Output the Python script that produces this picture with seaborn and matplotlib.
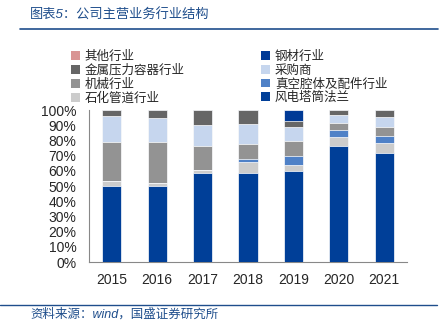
import matplotlib
matplotlib.use("Agg")
import matplotlib.pyplot as plt
import seaborn as sns
import numpy as np
import pandas as pd
from matplotlib.patches import Patch
from matplotlib.lines import Line2D

sns.set_style("white")
plt.rcParams['font.family'] = ['Liberation Sans', 'Noto Sans CJK SC', 'DejaVu Sans']

years = ["2015", "2016", "2017", "2018", "2019", "2020", "2021"]
# stack order bottom -> top
series_names = ["风电塔筒法兰", "石化管道行业", "真空腔体及配件行业", "机械行业",
                "采购商", "金属压力容器行业", "钢材行业", "其他行业"]
wind_flange   = [50, 50, 58.5, 58.5, 60, 76, 72]
petro_pipe    = [3, 2, 1.7, 7, 3.5, 6, 6]
vacuum        = [0, 0, 0, 2, 6, 5, 5]
machinery     = [26, 27, 16, 10, 10, 4.5, 6]
purchaser     = [17, 16, 14, 13, 9.5, 5.5, 6.5]
metal_vessel  = [4, 5, 9.8, 9.5, 4, 3, 4.5]
steel         = [0, 0, 0, 0, 7, 0, 0]
other         = [0, 0, 0, 0, 0, 0, 0]
series_vals = [wind_flange, petro_pipe, vacuum, machinery, purchaser, metal_vessel, steel, other]
colors = ["#003F98", "#CCCCCC", "#4F81C7", "#939393", "#C6D6EE", "#666666", "#003A96", "#D99594"]

fig = plt.figure(figsize=(4.44, 3.25), dpi=100)
ax = fig.add_axes([89/444, 1-262/325, (407-89)/444, (262-110)/325])

vals = np.array(series_vals, dtype=float)
cum = np.cumsum(vals, axis=0)
# draw from top cumulative to bottom
for i in range(len(series_names)-1, -1, -1):
    df = pd.DataFrame({"year": years, "v": cum[i]})
    sns.barplot(data=df, x="year", y="v", color=colors[i], width=0.42,
                edgecolor="white", linewidth=0.5, saturation=1, ax=ax, zorder=2+ (len(series_names)-i))

ax.set_xlim(-0.5, 6.5)
ax.set_ylim(0, 100)
ax.set_yticks(np.arange(0, 101, 10))
ax.set_yticklabels([f"{v}%" for v in range(0, 101, 10)], fontsize=10)
ax.set_xlabel("")
ax.set_ylabel("")
ax.tick_params(axis='x', which='major', length=0, labelsize=10, pad=8)
ax.set_xticks(np.arange(-0.5, 7, 1), minor=True)
ax.tick_params(axis='x', which='minor', length=4, color="#888888", direction='out')
ax.tick_params(axis='y', length=4, color="#888888", direction='out', pad=5)
for s in ["top", "right"]:
    ax.spines[s].set_visible(False)
for s in ["left", "bottom"]:
    ax.spines[s].set_color("#888888")
    ax.spines[s].set_linewidth(0.8)

# legend (row-wise order: top of stack first)
order_cols = [7, 5, 3, 1, 6, 4, 2, 0]
handles = [Patch(facecolor=colors[i], edgecolor='none') for i in order_cols]
labels = [series_names[i] for i in order_cols]
fig.legend(handles, labels, ncol=2, loc="upper left", bbox_to_anchor=(71/444, 1-51/325),
           frameon=False, fontsize=9, handlelength=0.7, handleheight=0.7,
           handletextpad=0.4, columnspacing=6.1, labelspacing=0.12,
           borderaxespad=0, borderpad=0)

title_color = "#1F4E8C"
fig.text(30/444, 1-15/325, "图表5：公司主营业务行业结构", fontsize=9.5, color=title_color,
         va="center", ha="left", style="italic")
fig.add_artist(Line2D([20/444, 438/444], [1-29/325, 1-29/325], color=title_color, lw=1.2))
fig.add_artist(Line2D([0, 437/444], [1-305/325, 1-305/325], color=title_color, lw=1.0))
fig.text(30/444, 1-314/325, "资料来源：wind，国盛证券研究所", fontsize=9, color=title_color,
         va="center", ha="left", style="italic")

fig.savefig("out.png", dpi=100)
